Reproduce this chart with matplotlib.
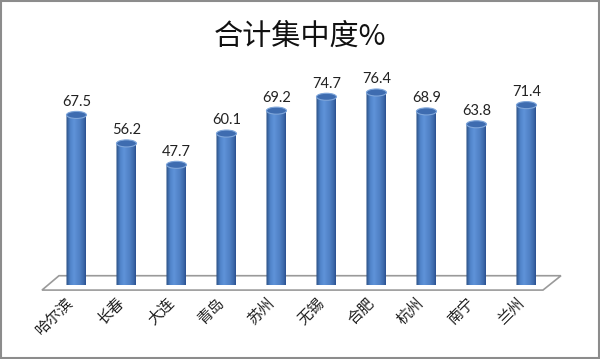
import numpy as np
import matplotlib
matplotlib.use("Agg")
import matplotlib.pyplot as plt
from matplotlib.patches import Ellipse, Polygon, PathPatch, Rectangle
from matplotlib.path import Path
from matplotlib.colors import LinearSegmentedColormap

plt.rcParams['font.family'] = ['Noto Sans CJK SC', 'DejaVu Sans']

cities = ["哈尔滨", "长春", "大连", "青岛", "苏州", "无锡", "合肥", "杭州", "南宁", "兰州"]
values = [67.5, 56.2, 47.7, 60.1, 69.2, 74.7, 76.4, 68.9, 63.8, 71.4]
title = "合计集中度%"

fig = plt.figure(figsize=(6.0, 3.59), dpi=100)
fig.patch.set_facecolor("white")
ax = fig.add_axes([0.0858, 0.206, 0.8333, 0.5616])
ax.set_xlim(-0.5, 9.5)
ax.set_ylim(0, 80)
ax.axis("off")

# floor
floor = Polygon([(-0.69, -2.0), (9.33, -2.0), (9.69, 3.7), (-0.35, 3.7)],
                closed=True, facecolor="white", edgecolor="#9a9a9a", lw=1.2,
                clip_on=False, zorder=1)
ax.add_patch(floor)

cmap = LinearSegmentedColormap.from_list("cyl", [
    (0.0, "#2a4d80"), (0.2, "#4f82c8"), (0.4, "#5f93d9"),
    (0.7, "#4f80c4"), (0.9, "#3c68a9"), (1.0, "#2b5090")])
grad = np.linspace(0, 1, 64).reshape(1, -1)

w = 0.2
e = 1.4
for i, v in enumerate(values):
    t = np.linspace(np.pi, 2 * np.pi, 40)
    bottom = [(i + w * np.cos(a), e * np.sin(a)) for a in t]
    verts = [(i - w, v)] + bottom + [(i + w, v), (i - w, v)]
    codes = [Path.MOVETO] + [Path.LINETO] * (len(verts) - 2) + [Path.CLOSEPOLY]
    body = PathPatch(Path(verts, codes), facecolor="none", edgecolor="none",
                     clip_on=False, zorder=3)
    ax.add_patch(body)
    im = ax.imshow(grad, cmap=cmap, extent=[i - w, i + w, -e, v],
                   aspect="auto", zorder=3, interpolation="bilinear")
    im.set_clip_path(body)
    cap = Ellipse((i, v), 2 * w, 2 * e, facecolor="#3e6cb0",
                  edgecolor="#7fa6da", lw=0.8, zorder=4)
    ax.add_patch(cap)
    ax.text(i, v + 5.2, f"{v:.1f}", ha="center", va="center",
            fontsize=10.5, family=["Lato", "DejaVu Sans"], color="#222222",
            zorder=5)
    ax.text(i - 0.1, -6.0, cities[i], rotation=45, rotation_mode="anchor",
            ha="right", va="center", fontsize=11, color="#222222",
            clip_on=False)

ax.set_xlim(-0.5, 9.5)
ax.set_ylim(0, 80)

fig.text(0.5, 0.897, title, ha="center", va="center", fontsize=21,
         color="#111111")

fig.patches.append(Rectangle((0.002, 0.003), 0.996, 0.994,
                             transform=fig.transFigure, fill=False,
                             edgecolor="#8c8c8c", lw=1.5))

fig.savefig("out.png", dpi=100, facecolor="white")
